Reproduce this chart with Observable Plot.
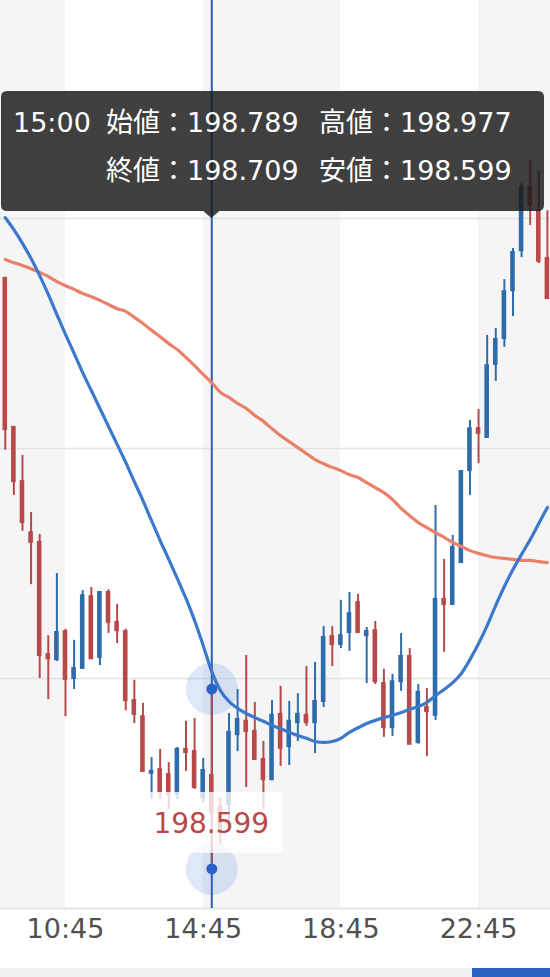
<!DOCTYPE html>
<html><head><meta charset="utf-8">
<script src="https://cdn.jsdelivr.net/npm/d3@7"></script>
<script src="https://cdn.jsdelivr.net/npm/@observablehq/plot@0.6"></script>
<style>
html,body{margin:0;padding:0;background:#fff;width:550px;height:977px;overflow:hidden;}
#chart svg{display:block;}
#strip{position:relative;width:550px;height:9px;background:#f1f1f1;}
#strip div{position:absolute;left:472px;top:0;width:78px;height:9px;background:#2a62c4;}
</style></head>
<body>
<div id="chart"></div>
<div id="strip"><div></div></div>
<script>
const times = ["09:00","09:15","09:30","09:45","10:00","10:15","10:30","10:45",
"11:00","11:15","11:30","11:45","12:00","12:15","12:30","12:45",
"13:00","13:15","13:30","13:45","14:00","14:15","14:30","14:45",
"15:00","15:15","15:30","15:45","16:00","16:15","16:30","16:45",
"17:00","17:15","17:30","17:45","18:00","18:15","18:30","18:45",
"19:00","19:15","19:30","19:45","20:00","20:15","20:30","20:45",
"21:00","21:15","21:30","21:45","22:00","22:15","22:30","22:45",
"23:00","23:15","23:30","23:45","00:00","00:15","00:30","00:45"];
const open = [199.870,199.546,199.428,199.317,199.296,199.052,199.041,199.102,199.000,199.022,
199.178,199.046,199.187,199.122,199.102,198.952,198.917,198.794,198.802,198.791,
198.748,198.846,198.841,198.741,198.789,198.720,198.726,198.878,198.907,198.885,
198.824,198.780,198.922,198.852,198.904,198.920,198.904,198.950,199.091,199.074,
199.100,199.165,199.093,199.104,198.989,198.893,198.993,199.048,198.861,198.937,
198.920,199.172,199.161,199.252,199.452,199.543,199.524,199.683,199.739,199.843,
199.930,200.067,200.017,199.913];
const high = [199.872,199.546,199.485,199.361,199.313,199.093,199.228,199.107,199.083,199.191,
199.198,199.189,199.193,199.161,199.107,198.996,198.946,198.828,198.846,198.817,
198.850,198.907,198.913,198.826,198.977,198.740,198.924,198.976,199.050,198.948,
198.863,198.952,198.983,198.950,198.967,199.026,199.035,199.113,199.113,199.170,
199.187,199.183,199.111,199.124,199.020,199.009,199.098,199.065,198.987,198.978,
199.376,199.259,199.311,199.450,199.561,199.585,199.746,199.761,199.867,199.935,
200.076,200.126,200.104,200.017];
const low = [199.496,199.398,199.320,199.204,199.000,198.954,199.037,198.917,198.976,199.020,
199.041,199.028,199.098,199.076,198.930,198.902,198.796,198.737,198.737,198.715,
198.737,198.798,198.759,198.730,198.599,198.640,198.665,198.841,198.763,198.822,
198.715,198.778,198.809,198.811,198.863,198.896,198.837,198.937,199.026,199.065,
199.059,199.100,198.989,198.987,198.872,198.874,198.972,198.857,198.857,198.830,
198.909,199.057,199.159,199.252,199.398,199.467,199.522,199.646,199.720,199.787,
199.915,199.985,199.902,199.826];
const close = [199.541,199.428,199.339,199.296,199.050,199.043,199.100,198.998,199.022,199.180,
199.043,199.187,199.122,199.104,198.952,198.922,198.798,198.798,198.754,198.748,
198.846,198.839,198.763,198.800,198.709,198.665,198.883,198.911,198.885,198.824,
198.780,198.920,198.848,198.907,198.922,198.904,198.950,199.089,199.074,199.093,
199.141,199.100,199.102,198.993,198.893,198.993,199.048,198.857,198.970,198.928,
199.172,199.161,199.285,199.450,199.543,199.533,199.680,199.737,199.841,199.926,
200.067,200.030,199.907,199.826];
const maShort = [200.002,199.976,199.946,199.913,199.876,199.835,199.791,199.748,199.707,199.665,
199.626,199.587,199.548,199.509,199.470,199.428,199.387,199.343,199.300,199.259,
199.217,199.174,199.126,199.072,199.015,198.974,198.950,198.935,198.924,198.915,
198.907,198.898,198.891,198.883,198.876,198.870,198.863,198.861,198.863,198.870,
198.883,198.893,198.902,198.909,198.915,198.920,198.926,198.933,198.939,198.948,
198.963,198.976,198.991,199.011,199.041,199.076,199.115,199.159,199.200,199.237,
199.270,199.302,199.337,199.372];
const maLong = [199.911,199.904,199.898,199.891,199.883,199.874,199.863,199.854,199.846,199.837,
199.830,199.822,199.813,199.804,199.798,199.785,199.772,199.757,199.743,199.728,
199.715,199.698,199.680,199.661,199.643,199.622,199.611,199.598,199.587,199.572,
199.559,199.543,199.528,199.515,199.502,199.489,199.476,199.467,199.459,199.452,
199.443,199.437,199.426,199.415,199.404,199.389,199.370,199.354,199.339,199.328,
199.317,199.307,199.296,199.287,199.278,199.272,199.267,199.263,199.261,199.259,
199.257,199.257,199.254,199.252];
const tickLabels = ["10:45","14:45","18:45","22:45"];
const yGrid = [199.0, 199.5, 200.0];
const yBase = 198.5, yTop = 200.474;
const domainStart = "08:51:42", domainEnd = "00:50:24";
const focusIndex = 24;
const tipNames = {open:"始値", high:"高値", close:"終値", low:"安値"};

const UP = "#2e6ca9", DOWN = "#b84948", CROSS = "#2b60b3", DOT = "#2a62c8";
const FONT = "'DejaVu Sans','Noto Sans CJK JP',sans-serif";

function parseTime(s){
  const [h,m,sec=0] = s.split(":").map(Number);
  return new Date(Date.UTC(2024,0,h < 6 ? 2 : 1,h,m,sec));
}
const candles = times.map((t,i)=>({label:t, date:parseTime(t), open:open[i], high:high[i], low:low[i], close:close[i], maS:maShort[i], maL:maLong[i]}));
const ups = candles.filter(d=>d.close>=d.open), downs = candles.filter(d=>d.close<d.open);
const focus = candles[focusIndex];
const tickDates = tickLabels.map(parseTime);
const bands = [[domainStart,tickLabels[0]],[tickLabels[1],tickLabels[2]],[tickLabels[3],domainEnd]]
  .map(([a,b])=>({x1:parseTime(a), x2:parseTime(b)}));
const HALF = 4*60*1000;
const bodyOpts = c => ({x1:d=>new Date(+d.date-HALF), x2:d=>new Date(+d.date+HALF), y1:"open", y2:"close", fill:c, insetTop:-1, insetBottom:-1});

const chart = Plot.plot({
  width:550, height:968, marginTop:0, marginRight:0, marginBottom:60, marginLeft:0,
  style:{background:"transparent", fontFamily:FONT},
  x:{type:"utc", domain:[parseTime(domainStart), parseTime(domainEnd)]},
  y:{domain:[yBase, yTop], axis:null},
  marks:[
    Plot.rectX(bands,{x1:"x1", x2:"x2", fill:"#f5f5f6"}),
    Plot.ruleY(yGrid,{stroke:"#e3e3e3", strokeWidth:1.5}),
    Plot.ruleY([yBase],{stroke:"#e5e5e5", strokeWidth:2}),
    Plot.ruleX([focus],{x:"date", stroke:CROSS, strokeWidth:2}),
    Plot.ruleX(ups,{x:"date", y1:"low", y2:"high", stroke:UP, strokeWidth:2}),
    Plot.ruleX(downs,{x:"date", y1:"low", y2:"high", stroke:DOWN, strokeWidth:2}),
    Plot.rect(ups, bodyOpts(UP)),
    Plot.rect(downs, bodyOpts(DOWN)),
    Plot.line(candles,{x:"date", y:"maL", stroke:"#e9806a", strokeWidth:3.2, curve:"monotone-x"}),
    Plot.line(candles,{x:"date", y:"maS", stroke:"#3c79cc", strokeWidth:3.2, curve:"monotone-x"}),
    Plot.dot([focus],{x:"date", y:"high", r:26, fill:DOT, fillOpacity:0.15, stroke:null, ariaLabel:"halo"}),
    Plot.dot([focus],{x:"date", y:"low", dy:6, r:26, fill:DOT, fillOpacity:0.15, stroke:null}),
    Plot.dot([focus],{x:"date", y:"high", r:5.5, fill:DOT, stroke:null}),
    Plot.dot([focus],{x:"date", y:"low", dy:6, r:5.5, fill:DOT, stroke:null}),
    Plot.axisX({ticks:tickDates, tickFormat:d3.utcFormat("%H:%M"), tickSize:0, tickPadding:10, fontSize:27, fill:"#505050", fontFamily:FONT})
  ]
});
document.getElementById("chart").appendChild(chart);

const svg = d3.select(chart);
const xs = chart.scale("x"), ys = chart.scale("y");
const cx = xs.apply(focus.date);

// price label for the low
const ly = ys.apply(focus.low);
const lg = svg.insert("g","g[aria-label='halo']");
lg.append("rect").attr("x", cx-63).attr("y", ly-70.5).attr("width",134).attr("height",61).attr("fill","#fff").attr("fill-opacity",0.78);
lg.append("text").attr("x", cx).attr("y", ly-29.5).attr("text-anchor","middle").attr("fill",DOWN)
  .attr("font-size",28).attr("font-family",FONT).text(focus.low.toFixed(3));

// tooltip
const x0=1, x1=544, y0=91, y1=211, r=6, pw=8, ph=7;
const tg = svg.append("g").attr("text-anchor","start");
tg.append("path").attr("d",`M${x0+r},${y0} H${x1-r} Q${x1},${y0} ${x1},${y0+r} V${y1-r} Q${x1},${y1} ${x1-r},${y1} H${cx+pw} L${cx},${y1+ph} L${cx-pw},${y1} H${x0+r} Q${x0},${y1} ${x0},${y1-r} V${y0+r} Q${x0},${y0} ${x0+r},${y0} Z`)
  .attr("fill","#191919").attr("fill-opacity",0.83);
const tt = (x,y,s)=>tg.append("text").attr("x",x).attr("y",y).attr("text-anchor","start").attr("fill","#fff").attr("font-size",27).attr("font-family",FONT).text(s);
tt(13,131.5,focus.label);
tt(106,131.5,`${tipNames.open}：${focus.open.toFixed(3)}`);
tt(319,131.5,`${tipNames.high}：${focus.high.toFixed(3)}`);
tt(106,180,`${tipNames.close}：${focus.close.toFixed(3)}`);
tt(319,180,`${tipNames.low}：${focus.low.toFixed(3)}`);
</script>
</body></html>
